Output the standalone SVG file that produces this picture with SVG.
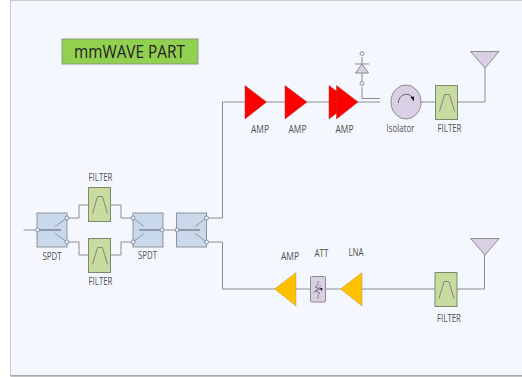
<svg xmlns="http://www.w3.org/2000/svg" width="522" height="377" viewBox="0 0 522 377">
<style>
text{font-family:"Open Sans","Noto Sans","Liberation Sans",sans-serif;font-size:10px;fill:#505050;text-anchor:middle}
.w{fill:none;stroke:#8c8c8c;stroke-width:1}
.sw{fill:#c9d8ea;stroke:#8e9499;stroke-width:1}
.st{fill:none;stroke:#8e9aa8;stroke-width:2}
.swl{fill:none;stroke:#8e9aa8;stroke-width:1}
.t{fill:#e8eef6;stroke:#6f8296;stroke-width:.8}
.f{fill:#c8dba0;stroke:#7d8a70;stroke-width:1}
.fl{fill:none;stroke:#808a78;stroke-width:1}
.p{fill:#d9d0e6;stroke:#8c8c8c;stroke-width:1}
.r{fill:#f00;stroke:#a33;stroke-width:.5}
.y{fill:#ffc000;stroke:#a89a6a;stroke-width:.5}
</style>
<defs>
<g id="sw">
<rect class="sw" x="0" y="0" width="30" height="34"/>
</g>
<g id="flt">
<rect class="f" x="0" y="0" width="22" height="34"/>
<path class="fl" d="M4 26L9 9H14L19 26"/>
</g>
</defs>
<rect x="10.500" y="0.500" width="520" height="375" fill="#f4f8fe" stroke="#999" stroke-dasharray="1 1"/>
<path d="M10.500 376H522" stroke="#888" fill="none"/>
<g id="connectors">
<path class="w" d="M23.500 230H37M67 218H79V205H88.500M67 242H79V255H88.500M111 205H121V218H133M111 255H121V242H133M163 230H176.500M206.500 218H222.500V102H245M206.500 242H222.500V289H275"/>
<path class="w" d="M266 102H285M307 102H329M358 102H380M362 87V98.500H380M362 57V83M421 102H435.500M457.500 102H485V68M296 289H310.500M325.500 289H341M362 289H435M457 289H484.500V255"/>
</g>
<g id="title"><rect x="62" y="39" width="136" height="25" fill="#92d050" stroke="#8a9a80"/><text x="129.500" y="57.500" textLength="111" lengthAdjust="spacingAndGlyphs" style="font-size:18px;fill:#222">mmWAVE PART</text></g>
<g id="spdt1"><use href="#sw" x="37" y="213"/><path class="st" d="M37.500 230H61"/><path class="swl" d="M55 226.500L67 218M55 233.500L67 242"/><circle class="t" cx="37.500" cy="230" r="2"/><circle class="t" cx="67" cy="218" r="2"/><circle class="t" cx="67" cy="242" r="2"/><text x="52" y="259.500" textLength="19" lengthAdjust="spacingAndGlyphs">SPDT</text></g>
<g id="spdt2"><use href="#sw" x="133" y="213"/><path class="st" d="M139 230H162"/><path class="swl" d="M144 226.500L133 218M144 233.500L133 242"/><circle class="t" cx="133" cy="218" r="2"/><circle class="t" cx="133" cy="242" r="2"/><circle class="t" cx="162" cy="230" r="2"/><text x="147.500" y="259" textLength="19" lengthAdjust="spacingAndGlyphs">SPDT</text></g>
<g id="spdt3"><use href="#sw" x="176.500" y="213"/><path class="st" d="M177 230H200"/><path class="swl" d="M195 226.500L206.500 218M195 233.500L206.500 242"/><circle class="t" cx="177" cy="230" r="2"/><circle class="t" cx="206.500" cy="218" r="2"/><circle class="t" cx="206.500" cy="242" r="2"/></g>
<g id="filter1"><use href="#flt" x="88.500" y="187.500"/><text x="100.500" y="180.500" textLength="24" lengthAdjust="spacingAndGlyphs">FILTER</text></g>
<g id="filter2"><use href="#flt" x="88.500" y="238.500"/><text x="100.500" y="285" textLength="24" lengthAdjust="spacingAndGlyphs">FILTER</text></g>
<g id="amp1"><path class="r" d="M245 85.500V119L266.500 102Z"/><text x="260" y="133.300" textLength="18" lengthAdjust="spacingAndGlyphs">AMP</text></g>
<g id="amp2"><path class="r" d="M285 85.500V119L307 102Z"/><text x="297.500" y="133.300" textLength="18" lengthAdjust="spacingAndGlyphs">AMP</text></g>
<g id="amp3"><path class="r" d="M329 85.500V119L351 102Z"/><path class="r" d="M336.500 85.500V119L358 102Z"/><text x="344.500" y="133.300" textLength="18" lengthAdjust="spacingAndGlyphs">AMP</text></g>
<g id="diode"><circle class="t" cx="362" cy="53.500" r="2"/><circle class="t" cx="362" cy="83.500" r="2"/><path class="p" d="M355.500 73H368.500L362 64Z"/><path class="w" d="M355 64H369"/></g>
<g id="isolator"><ellipse class="p" cx="406" cy="102" rx="15" ry="17"/><path fill="none" stroke="#666" d="M398.300 103A8 9 0 0 1 412 97"/><path fill="#111" d="M410.500 97L414 96.500L414 101.500Z"/><text x="400.500" y="132.300" textLength="28" lengthAdjust="spacingAndGlyphs">Isolator</text></g>
<g id="filter3"><use href="#flt" x="435.500" y="85.500"/><text x="449.500" y="131.700" textLength="24" lengthAdjust="spacingAndGlyphs">FILTER</text></g>
<g id="antenna1"><path class="p" d="M470.500 51.500H499L485 68Z"/></g>
<g id="amp4"><path class="y" d="M296 272.500V306L274.500 289Z"/><text x="290" y="260" textLength="18" lengthAdjust="spacingAndGlyphs">AMP</text></g>
<g id="att"><rect class="p" x="310.500" y="276.500" width="15" height="25.500" rx="1"/><path fill="none" stroke="#666" stroke-width=".7" d="M318 281V285L315 287L320 289L315 291L320 293L318 295V299M313 293L321 286"/><path fill="#111" d="M320 288L323 288.500L321 291Z"/><text x="321.500" y="257.300" textLength="14" lengthAdjust="spacingAndGlyphs">ATT</text></g>
<g id="lna"><path class="y" d="M362 272.500V306L340.500 289Z"/><text x="356" y="256" textLength="15" lengthAdjust="spacingAndGlyphs">LNA</text></g>
<g id="filter4"><use href="#flt" x="435" y="272.500"/><text x="449" y="321.700" textLength="24" lengthAdjust="spacingAndGlyphs">FILTER</text></g>
<g id="antenna2"><path class="p" d="M470.500 238.500H499L485 255Z"/></g>
</svg>
